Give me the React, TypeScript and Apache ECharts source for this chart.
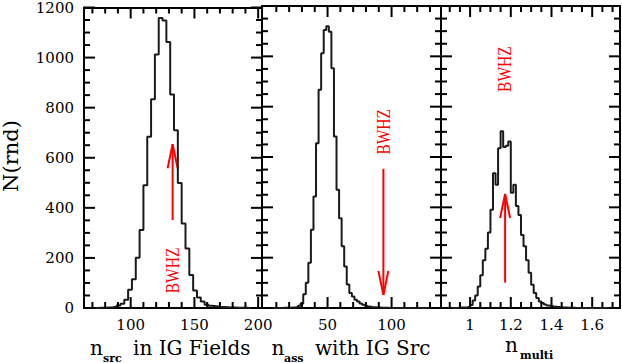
import React, { useEffect, useRef } from "react";
import * as echarts from "echarts";

// ---------------- Data ----------------
// Panel 1: n_src in IG Fields (histogram, bin width 3)
const srcBinStart = 65;
const srcBinWidth = 3;
const srcCounts = [
  0, 0, 0, 1, 1, 2, 3, 5, 10, 17, 33, 73, 115, 201, 311, 490, 684, 834, 1012,
  1158, 1148, 1062, 853, 710, 499, 337, 238, 132, 70, 42, 26, 13, 9, 7, 5, 4, 3,
  2, 2, 1, 1, 1, 0, 0, 0,
];

// Panel 2: n_ass with IG Src (bin width 2)
const assBinStart = 1;
const assBinWidth = 2;
const assCounts = [
  0, 0, 0, 0, 0, 0, 0, 1, 1, 1, 2, 2, 4, 9, 18, 55, 100, 180, 311, 443, 655,
  867, 1012, 1105, 1120, 1098, 953, 681, 470, 357, 245, 165, 93, 60, 46, 33, 26,
  18, 13, 9, 6, 4, 3, 2, 2, 1, 1, 1, 0, 0, 0, 0, 0, 0, 0, 0, 0, 0, 0, 0, 0, 0,
  0, 0, 0, 0, 0, 0,
];

// Panel 3: n_multi (bin width 0.0125)
const multiBinStart = 0.875;
const multiBinWidth = 0.0125;
const multiCounts = [
  0, 0, 0, 0, 0, 1, 2, 2, 3, 5, 12, 30, 50, 85, 130, 190, 235, 300, 390, 535,
  490, 635, 702, 640, 645, 662, 458, 490, 405, 370, 290, 245, 190, 140, 92, 60,
  40, 26, 20, 14, 10, 8, 6, 5, 4, 3, 2, 2, 1, 1, 1, 0, 0, 0, 0, 0, 0, 0, 0, 0,
  0, 0, 0, 0, 0, 0, 0, 0,
];

// Axis ranges and ticks
const srcRange = [63.4, 203.0];
const assRange = [-1.2, 138.6];
const multiRange = [0.857, 1.7366];
const yRange = [0, 1200];

const srcTickLabels = [100, 150, 200];
const srcMinorTicks = [70, 80, 90, 110, 120, 130, 140, 160, 170, 180, 190];
const assTickLabels = [50, 100];
const assMinorTicks = [10, 20, 30, 40, 60, 70, 80, 90, 110, 120, 130];
const multiTickLabels = [1, 1.2, 1.4, 1.6];
const multiMinorTicks = [0.9, 0.95, 1.05, 1.1, 1.15, 1.25, 1.3, 1.35, 1.45, 1.5, 1.55, 1.65, 1.7];
const yTickLabels = [0, 200, 400, 600, 800, 1000, 1200];
const yMinorTicks = [50, 100, 150, 250, 300, 350, 450, 500, 550, 650, 700, 750, 850, 900, 950, 1050, 1100, 1150];

// BWHZ markers: arrow x, arrow tail value, arrow tip value, text x, text y
const bwhzArrowX = [132.9, 93.6, 1.172];
const bwhzArrowTail = [351, 553, 101];
const bwhzArrowTip = [654, 52, 453];
const bwhzTextX = [133.4, 94.1, 1.172];
const bwhzTextY = [150, 700, 949];

// ---------------- Layout / style ----------------
const FONT = "DejaVu Serif";
const RED = "#ff0000";
const MAJOR_LEN = 11;
const MINOR_LEN = 6;
const GRID_TOP = 6;
const GRID_H = 302;
const grids = [
  { left: 84, width: 178 },
  { left: 262, width: 179 },
  { left: 441, width: 179 },
];
const panels = [
  { range: srcRange, major: srcTickLabels, minor: srcMinorTicks },
  { range: assRange, major: assTickLabels, minor: assMinorTicks },
  { range: multiRange, major: multiTickLabels, minor: multiMinorTicks },
];

function histPoints(start: number, width: number, counts: number[]) {
  const pts: number[][] = counts.map((c, i) => [+(start + i * width).toFixed(6), c]);
  pts.push([+(start + counts.length * width).toFixed(6), counts[counts.length - 1]]);
  return pts;
}

function xAxesFor(g: number) {
  const p = panels[g];
  const mk = (position: string, labels: boolean) => ({
    type: "value",
    gridIndex: g,
    position,
    min: p.range[0],
    max: p.range[1],
    splitLine: { show: false },
    axisLine: { show: true, onZero: false, lineStyle: { color: "#000", width: 2 } },
    axisTick: { show: false },
    axisLabel: labels
      ? { show: true, customValues: p.major, margin: 9, fontFamily: FONT, fontSize: 15, color: "#000" }
      : { show: false },
  });
  return [mk("bottom", true), mk("top", false)];
}

function yAxesFor(g: number) {
  const mk = (position: string, labels: boolean) => ({
    type: "value",
    gridIndex: g,
    position,
    min: yRange[0],
    max: yRange[1],
    interval: 200,
    splitLine: { show: false },
    axisLine: { show: true, onZero: false, lineStyle: { color: "#000", width: 2 } },
    axisTick: { show: false },
    axisLabel: labels
      ? {
          show: true,
          formatter: (v: number) => String(v),
          margin: 10,
          fontFamily: FONT,
          fontSize: 15,
          color: "#000",
        }
      : { show: false },
  });
  return [mk("left", g === 0), mk("right", false)];
}

function histSeries(g: number, data: number[][]) {
  return {
    type: "line",
    xAxisIndex: g * 2,
    yAxisIndex: g * 2,
    data,
    step: "end",
    showSymbol: false,
    symbol: "none",
    lineStyle: { color: "#1a1a1a", width: 2 },
  };
}

function markerSeries(g: number) {
  return {
    type: "custom",
    xAxisIndex: g * 2,
    yAxisIndex: g * 2,
    data: [[bwhzArrowX[g], bwhzArrowTail[g], bwhzArrowTip[g], bwhzTextX[g], bwhzTextY[g]]],
    renderItem: (_params: any, api: any) => {
      const x = api.value(0);
      const p0 = api.coord([x, api.value(1)]);
      const p1 = api.coord([x, api.value(2)]);
      const tp = api.coord([api.value(3), api.value(4)]);
      const dir = p1[1] > p0[1] ? 1 : -1;
      const headLen = 24;
      const headHalf = 5;
      return {
        type: "group",
        children: [
          {
            type: "line",
            shape: { x1: p0[0], y1: p0[1], x2: p1[0], y2: p1[1] },
            style: { stroke: RED, lineWidth: 2 },
          },
          {
            type: "polyline",
            shape: {
              points: [
                [p1[0] - headHalf, p1[1] - dir * headLen],
                [p1[0], p1[1]],
                [p1[0] + headHalf, p1[1] - dir * headLen],
              ],
            },
            style: { stroke: RED, lineWidth: 2, fill: "none" },
          },
          {
            type: "text",
            x: tp[0],
            y: tp[1],
            rotation: Math.PI / 2,
            scaleX: 0.86,
            style: {
              text: "BWHZ",
              fill: RED,
              fontFamily: "Liberation Serif",
              fontSize: 18,
              textAlign: "center",
              textVerticalAlign: "middle",
              align: "center",
              verticalAlign: "middle",
            },
          },
        ],
      };
    },
  };
}

function txt(text: string, x: number, y: number, size: number, extra: any = {}) {
  return {
    type: "text",
    x,
    y,
    rotation: extra.rotation || 0,
    style: {
      text,
      fill: "#000",
      fontFamily: FONT,
      fontSize: size,
      fontWeight: extra.fontWeight || "normal",
      textAlign: extra.align || "left",
      align: extra.align || "left",
      textVerticalAlign: "middle",
      verticalAlign: "middle",
    },
  };
}

const titleGraphics = [
  txt("N(rnd)", 11, 156, 21, { rotation: Math.PI / 2, align: "center" }),
  txt("n", 90, 348, 20),
  txt("src", 103, 358, 11, { fontWeight: "bold" }),
  txt("in IG Fields", 133, 348, 20),
  txt("n", 271.5, 348, 20),
  txt("ass", 284, 358, 11, { fontWeight: "bold" }),
  txt("with IG Src", 315, 348, 20),
  txt("n", 505, 345, 20),
  txt("multi", 520, 355, 11, { fontWeight: "bold" }),
];

// Tick marks on all four sides of each panel; pixel positions come from the main chart's axes
function tickGraphics(chart: any) {
  const out: any[] = [];
  panels.forEach((p, g) => {
    const gr = grids[g];
    const toPx = (x: number, y: number) => {
      let r: any = null;
      try {
        r = chart.convertToPixel({ xAxisIndex: g * 2, yAxisIndex: g * 2 }, [x, y]);
      } catch (e) {
        r = null;
      }
      if (!r || !isFinite(r[0]) || !isFinite(r[1])) {
        r = [
          gr.left + ((x - p.range[0]) / (p.range[1] - p.range[0])) * gr.width,
          GRID_TOP + GRID_H - ((y - yRange[0]) / (yRange[1] - yRange[0])) * GRID_H,
        ];
      }
      return r;
    };
    const seg = (x1: number, y1: number, x2: number, y2: number) =>
      out.push({ type: "line", shape: { x1, y1, x2, y2 }, style: { stroke: "#000", lineWidth: 2 } });
    const xt = [...p.major.map((v) => [v, MAJOR_LEN]), ...p.minor.map((v) => [v, MINOR_LEN])];
    xt.forEach(([v, len]) => {
      const b = toPx(v, yRange[0]);
      const t = toPx(v, yRange[1]);
      seg(b[0], b[1], b[0], b[1] - len);
      seg(t[0], t[1], t[0], t[1] + len);
    });
    const yt = [...yTickLabels.map((v) => [v, MAJOR_LEN]), ...yMinorTicks.map((v) => [v, MINOR_LEN])];
    yt.forEach(([v, len]) => {
      const l = toPx(p.range[0], v);
      const r = toPx(p.range[1], v);
      seg(l[0], l[1], l[0] + len, l[1]);
      seg(r[0], r[1], r[0] - len, r[1]);
    });
  });
  return out;
}

export default function App() {
  const ref = useRef<HTMLDivElement>(null);
  const overlayRef = useRef<HTMLDivElement>(null);

  useEffect(() => {
    if (!ref.current || !overlayRef.current) return;
    const chart = echarts.init(ref.current, null, { renderer: "svg", width: 622, height: 363 });

    const option: any = {
      animation: false,
      grid: grids.map((gr) => ({ left: gr.left, top: GRID_TOP, width: gr.width, height: GRID_H })),
      xAxis: [...xAxesFor(0), ...xAxesFor(1), ...xAxesFor(2)],
      yAxis: [...yAxesFor(0), ...yAxesFor(1), ...yAxesFor(2)],
      series: [
        histSeries(0, histPoints(srcBinStart, srcBinWidth, srcCounts)),
        histSeries(1, histPoints(assBinStart, assBinWidth, assCounts)),
        histSeries(2, histPoints(multiBinStart, multiBinWidth, multiCounts)),
        markerSeries(0),
        markerSeries(1),
        markerSeries(2),
      ],
      graphic: titleGraphics,
    };
    chart.setOption(option);

    // transparent overlay chart carrying the tick marks
    const overlay = echarts.init(overlayRef.current, null, { renderer: "svg", width: 622, height: 363 });
    overlay.setOption({ animation: false, graphic: tickGraphics(chart) });

    return () => {
      overlay.dispose();
      chart.dispose();
    };
  }, []);

  return (
    <div style={{ position: "absolute", left: 0, top: 0, width: 622, height: 363 }}>
      <div ref={ref} style={{ position: "absolute", left: 0, top: 0, width: 622, height: 363 }} />
      <div
        ref={overlayRef}
        style={{ position: "absolute", left: 0, top: 0, width: 622, height: 363, pointerEvents: "none" }}
      />
    </div>
  );
}
